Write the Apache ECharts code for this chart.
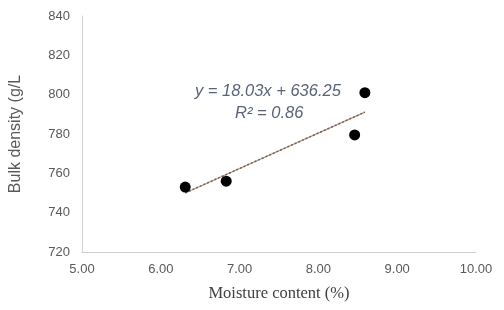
<!DOCTYPE html>
<html><head><meta charset="utf-8">
<script src="https://cdn.jsdelivr.net/npm/echarts@6/dist/echarts.min.js"></script>
<style>html,body{margin:0;padding:0;background:#fff}#c{width:504px;height:310px}</style>
</head><body><div id="c"></div>
<script>
const moisture = [6.31, 6.83, 8.46, 8.59];
const density = [753, 756, 779.5, 801];
const slope = 18.03, intercept = 636.25, r2 = 0.86;
const xTicks = [5, 6, 7, 8, 9, 10];
const yTicks = [720, 740, 760, 780, 800, 820, 840];

const xMin = Math.min(...moisture), xMax = Math.max(...moisture);
const trend = [[xMin, slope * xMin + intercept], [xMax, slope * xMax + intercept]];

const chart = echarts.init(document.getElementById('c'), null, {renderer: 'canvas'});
chart.setOption({
  animation: false,
  grid: {left: 82, right: 28, top: 16, bottom: 58, containLabel: false, outerBoundsMode: 'none'},
  xAxis: {
    type: 'value', min: xTicks[0], max: xTicks[xTicks.length-1], interval: 1,
    name: 'Moisture content (%)', nameLocation: 'middle', nameGap: 33,
    nameTextStyle: {fontFamily: 'Liberation Serif', fontSize: 16.5, color: '#404040'},
    axisLine: {show: true, lineStyle: {color: '#d0d0d0', width: 1}},
    axisTick: {show: false}, splitLine: {show: false},
    axisLabel: {formatter: v => v.toFixed(2), fontFamily: 'Liberation Sans', fontSize: 13, color: '#595959', margin: 11}
  },
  yAxis: {
    type: 'value', min: yTicks[0], max: yTicks[yTicks.length-1], interval: 20,
    name: 'Bulk density (g/L', nameLocation: 'middle', nameGap: 58, nameRotate: 90,
    nameTextStyle: {fontFamily: 'Liberation Sans', fontSize: 16, color: '#595959'},
    axisLine: {show: true, lineStyle: {color: '#d0d0d0', width: 1}},
    axisTick: {show: false}, splitLine: {show: false},
    axisLabel: {fontFamily: 'Liberation Sans', fontSize: 13, color: '#595959', margin: 12}
  },
  series: [
    {type: 'line', data: trend, symbol: 'none', lineStyle: {color: '#a0a0a0', width: 1.2}, z: 2},
    {type: 'line', data: trend, symbol: 'none', lineStyle: {color: '#8b5a40', width: 1.5, type: [2, 2]}, z: 3},
    {type: 'scatter', data: moisture.map((x, i) => [x, density[i]]), symbolSize: 11, itemStyle: {color: '#000', opacity: 1}, z: 5}
  ],
  graphic: [
    {type: 'text', left: 195, top: 83, style: {text: 'y = 18.03x + 636.25', font: 'italic 16.5px "Liberation Sans"', fill: '#5a6378'}},
    {type: 'text', left: 235, top: 105, style: {text: 'R² = ' + r2.toFixed(2), font: 'italic 16.5px "Liberation Sans"', fill: '#5a6378'}}
  ]
});
</script></body></html>
